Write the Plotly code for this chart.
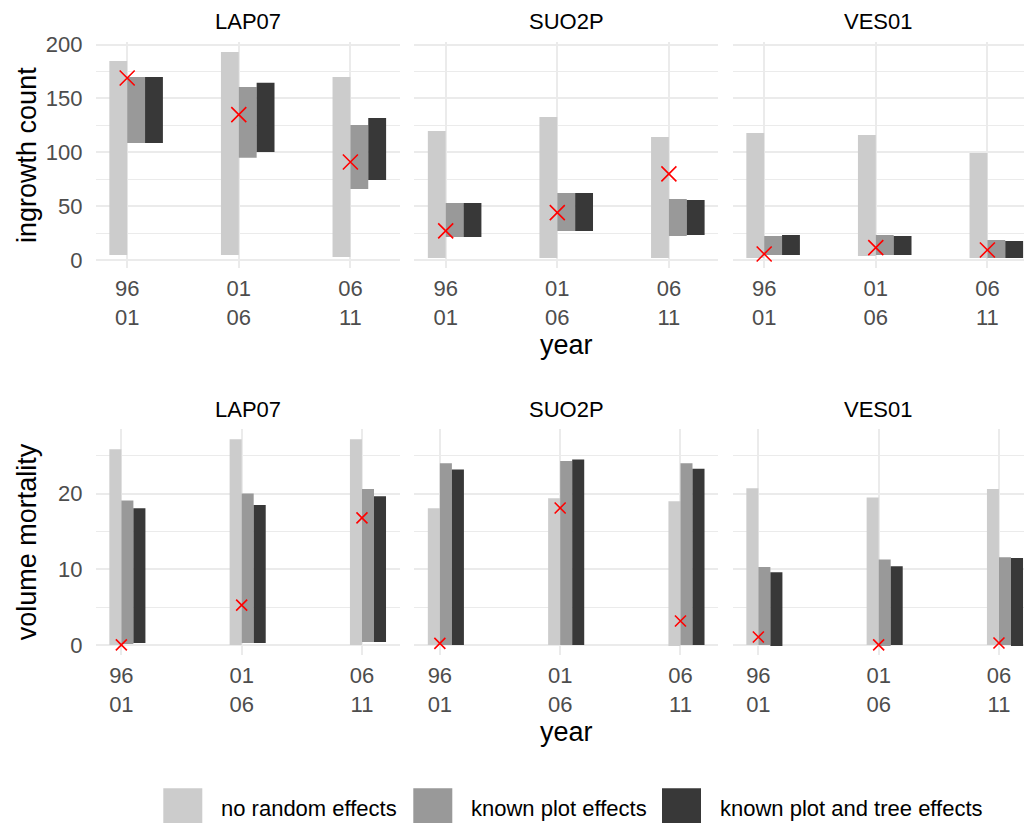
import plotly.graph_objects as go

# ---------------- data ----------------
sites = ["LAP07", "SUO2P", "VES01"]
periods = ["96<br>01", "01<br>06", "06<br>11"]
series_names = ["no random effects", "known plot effects", "known plot and tree effects"]
series_colors = ["#cccccc", "#999999", "#383838"]

# ingrowth count: [site][period]
ing_none_low = [[4.6, 4.6, 2.8], [1.9, 1.9, 1.9], [1.9, 3.7, 1.9]]
ing_none_high = [[184.8, 193.2, 170.0], [119.8, 132.8, 114.2], [118.0, 116.1, 99.4]]
ing_plot_low = [[108.7, 95.0, 65.9], [21.4, 26.9, 22.3], [4.6, 4.6, 1.9]]
ing_plot_high = [[170.0, 160.7, 125.4], [52.9, 62.2, 56.7], [22.3, 23.2, 18.6]]
ing_tree_low = [[108.7, 100.3, 74.3], [21.4, 26.9, 23.2], [4.6, 4.6, 1.9]]
ing_tree_high = [[170.0, 164.7, 131.9], [52.9, 62.2, 55.7], [23.2, 22.3, 17.6]]
ing_observed = [[169.0, 135.0, 91.0], [27.0, 44.0, 80.0], [5.6, 11.5, 9.3]]

# volume mortality: [site][period]
mor_none_low = [[0.0, 0.0, 0.0], [0.0, 0.0, -0.13], [0.0, 0.0, 0.0]]
mor_none_high = [[25.85, 27.2, 27.2], [18.07, 19.4, 19.0], [20.7, 19.5, 20.6]]
mor_plot_low = [[0.13, 0.26, 0.4], [0.0, 0.0, 0.0], [0.0, -0.13, 0.0]]
mor_plot_high = [[19.1, 20.0, 20.6], [24.0, 24.3, 24.0], [10.3, 11.3, 11.6]]
mor_tree_low = [[0.26, 0.26, 0.4], [0.0, 0.0, 0.0], [-0.13, 0.0, -0.13]]
mor_tree_high = [[18.07, 18.5, 19.65], [23.2, 24.5, 23.3], [9.6, 10.4, 11.5]]
mor_observed = [[0.0, 5.27, 16.8], [0.2, 18.1, 3.16], [1.05, 0.0, 0.26]]

row_titles = ["ingrowth count", "volume mortality"]
x_title = "year"

# ---------------- layout geometry (pixels) ----------------
W, H = 1024, 823
col_px = [(95.5, 399.9), (414.0, 718.4), (732.5, 1024.0)]
row_px = [(41.6, 268.3), (429.3, 655.3)]

row_cfg = [
    dict(low=[ing_none_low, ing_plot_low, ing_tree_low],
         high=[ing_none_high, ing_plot_high, ing_tree_high],
         obs=ing_observed, width=0.16, xr0=0.716, pxu=111.6,
         yrange=[-7.7, 202.8], ymajor=[0, 50, 100, 150, 200],
         yminor=[25, 75, 125, 175], msize=15),
    dict(low=[mor_none_low, mor_plot_low, mor_tree_low],
         high=[mor_none_high, mor_plot_high, mor_tree_high],
         obs=mor_observed, width=0.10, xr0=0.785, pxu=120.3,
         yrange=[-1.37, 28.5], ymajor=[0, 10, 20],
         yminor=[5, 15, 25], msize=11),
]

FONT = "Liberation Sans, Arial, Helvetica, sans-serif"
GRID = "#ebebeb"
TICKC = "#4d4d4d"


def xp(px):
    return px / W


def yp(py):
    return 1 - py / H


fig = go.Figure()
layout = dict(
    width=W, height=H,
    margin=dict(l=0, r=0, t=0, b=0, pad=0),
    paper_bgcolor="white", plot_bgcolor="white",
    barmode="overlay", showlegend=False,
    font=dict(family=FONT, color="black"),
)
annotations = []
shapes = []

xpos = [1, 2, 3]
for r, cfg in enumerate(row_cfg):
    for c, site in enumerate(sites):
        i = r * 3 + c
        xa = "x" if i == 0 else f"x{i + 1}"
        ya = "y" if i == 0 else f"y{i + 1}"
        w = cfg["width"]
        offsets = [-w, 0.0, w]
        for k in range(3):
            lo = cfg["low"][k][c]
            hi = cfg["high"][k][c]
            fig.add_trace(go.Bar(
                x=xpos, base=lo, y=[h - l for h, l in zip(hi, lo)],
                width=w, offset=offsets[k],
                marker=dict(color=series_colors[k], line=dict(width=0)),
                name=series_names[k], xaxis=xa, yaxis=ya,
            ))
        fig.add_trace(go.Scatter(
            x=xpos, y=cfg["obs"][c], mode="markers",
            marker=dict(symbol="x-thin", size=cfg["msize"],
                        line=dict(color="#ff0000", width=1.6), color="#ff0000"),
            name="observed", xaxis=xa, yaxis=ya,
        ))

        x0, x1 = col_px[c]
        y0, y1 = row_px[r]
        xr1 = cfg["xr0"] + (x1 - x0) / cfg["pxu"]
        layout["xaxis" if i == 0 else f"xaxis{i + 1}"] = dict(
            domain=[xp(x0), xp(x1)], range=[cfg["xr0"], xr1],
            anchor=ya, tickvals=xpos, ticktext=periods,
            showgrid=True, gridcolor=GRID, gridwidth=2,
            zeroline=False, showline=False, ticks="",
            tickfont=dict(size=22, color=TICKC, family=FONT),
            ticklabelstandoff=5, fixedrange=True, automargin=False,
        )
        layout["yaxis" if i == 0 else f"yaxis{i + 1}"] = dict(
            domain=[yp(y1), yp(y0)], range=cfg["yrange"],
            anchor=xa, tickvals=cfg["ymajor"],
            showticklabels=(c == 0),
            showgrid=True, gridcolor=GRID, gridwidth=2,
            minor=dict(tickvals=cfg["yminor"], showgrid=True,
                       gridcolor=GRID, gridwidth=1, ticks=""),
            zeroline=False, showline=False, ticks="",
            tickfont=dict(size=22, color=TICKC, family=FONT),
            ticklabelstandoff=12, fixedrange=True, automargin=False,
        )
        # facet strip title
        annotations.append(dict(
            text=site, xref="paper", yref="paper",
            x=xp((x0 + min(x1, x0 + 304.4)) / 2), y=yp(y0 - 20),
            xanchor="center", yanchor="middle", showarrow=False,
            font=dict(size=22, color="black", family=FONT),
        ))
    # row y title
    y0, y1 = row_px[r]
    annotations.append(dict(
        text=row_titles[r], xref="paper", yref="paper",
        x=xp(27), y=yp((y0 + y1) / 2), textangle=-90,
        xanchor="center", yanchor="middle", showarrow=False,
        font=dict(size=27, color="black", family=FONT),
    ))
    # x title
    annotations.append(dict(
        text=x_title, xref="paper", yref="paper",
        x=xp(566), y=yp(y1 + 77),
        xanchor="center", yanchor="middle", showarrow=False,
        font=dict(size=27, color="black", family=FONT),
    ))

# legend (drawn manually to match the large square keys)
key_x = [163.3, 413.3, 662.0]
text_x = [219.0, 469.3, 718.3]
for k in range(3):
    shapes.append(dict(
        type="rect", xref="paper", yref="paper",
        x0=xp(key_x[k]), x1=xp(key_x[k] + 39), y0=yp(823), y1=yp(788.3),
        fillcolor=series_colors[k], line=dict(width=0),
    ))
    annotations.append(dict(
        text=series_names[k], xref="paper", yref="paper",
        x=xp(text_x[k]), y=yp(808), xanchor="left", yanchor="middle",
        showarrow=False, font=dict(size=22, color="black", family=FONT),
    ))

layout["annotations"] = annotations
layout["shapes"] = shapes
fig.update_layout(**layout)
fig.write_html(
    "out.html",
    config={"displayModeBar": False},
    post_script="document.body.style.margin='0px';document.body.style.overflow='hidden';",
)
